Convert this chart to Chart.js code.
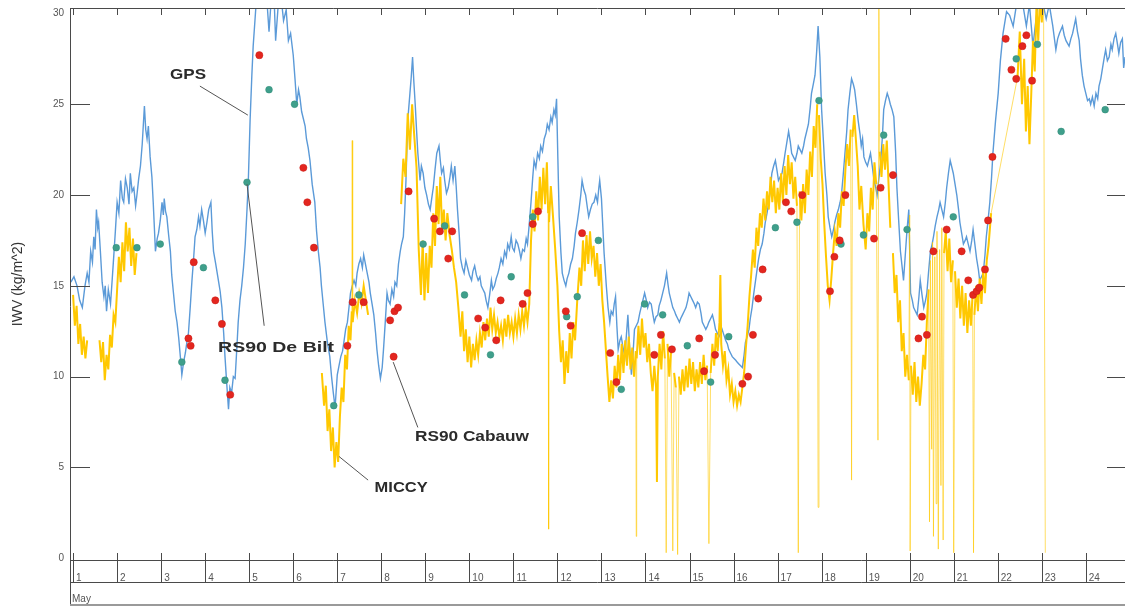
<!DOCTYPE html>
<html>
<head>
<meta charset="utf-8">
<title>IWV - May</title>
<script src="https://cdn.jsdelivr.net/npm/chart.js@4/dist/chart.umd.min.js"></script>
<style>
  html, body { margin: 0; padding: 0; background: #fff; }
  #wrap { width: 1125px; height: 610px; }
</style>
</head>
<body>
<div id="wrap"><canvas id="chart" width="1125" height="610"></canvas></div>
<script>
// IWV time series for May: GPS, MICCY radiometer and the two RS90 radiosonde sites

const dayTicks = [1, 2, 3, 4, 5, 6, 7, 8, 9, 10, 11, 12, 13, 14, 15, 16, 17, 18, 19, 20, 21, 22, 23, 24];
const iwvTicks = [0, 5, 10, 15, 20, 25, 30];
const monthLabel = "May";

// [day of May, IWV kg/m^2]
const gps = [
  [0.95,15.2],[1.02,15.5],[1.09,15.0],[1.15,14.2],[1.21,13.8],[1.27,15.0],[1.32,15.7],[1.36,15.2],[1.40,16.9],[1.44,16.3],
  [1.47,17.7],[1.50,17.0],[1.53,19.2],[1.56,18.2],[1.58,18.5],[1.62,16.9],[1.66,15.2],[1.70,14.4],[1.73,15.0],[1.76,13.6],
  [1.80,14.8],[1.85,14.0],[1.89,15.4],[1.92,16.5],[1.96,18.0],[2.00,19.6],[2.04,19.0],[2.08,20.8],[2.12,19.8],[2.15,19.6],
  [2.19,20.9],[2.23,20.4],[2.27,19.5],[2.30,21.2],[2.34,20.2],[2.38,20.4],[2.42,19.4],[2.45,20.0],[2.49,20.9],[2.53,21.6],
  [2.57,22.8],[2.62,24.9],[2.65,23.6],[2.68,23.1],[2.71,23.8],[2.75,22.1],[2.79,21.0],[2.82,19.6],[2.85,18.0],[2.87,16.9],
  [2.91,17.6],[2.94,17.9],[2.98,18.6],[3.02,19.6],[3.05,18.9],[3.07,19.8],[3.10,19.1],[3.13,18.8],[3.17,17.8],[3.21,16.9],
  [3.24,15.6],[3.28,14.6],[3.32,13.6],[3.36,13.0],[3.40,12.1],[3.44,11.0],[3.47,10.1],[3.51,10.8],[3.55,11.3],[3.59,12.0],
  [3.62,12.4],[3.66,13.8],[3.70,15.3],[3.74,16.6],[3.77,17.7],[3.81,18.1],[3.85,18.8],[3.88,18.3],[3.92,19.2],[3.96,18.6],
  [4.00,17.9],[4.04,18.5],[4.08,19.2],[4.13,19.6],[4.16,18.0],[4.19,16.9],[4.24,16.2],[4.30,15.3],[4.34,14.7],[4.38,13.8],
  [4.42,12.4],[4.45,11.1],[4.49,9.6],[4.53,8.2],[4.56,9.4],[4.60,9.1],[4.64,10.0],[4.68,9.9],[4.72,11.6],[4.75,13.0],
  [4.79,14.2],[4.83,15.0],[4.87,16.0],[4.91,17.3],[4.95,19.2],[4.98,20.8],[5.02,24.1],[5.06,26.6],[5.09,28.2],[5.13,29.6],
  [5.17,31.0],[5.25,31.5],[5.32,30.8],[5.38,31.5],[5.45,29.0],[5.50,30.8],[5.56,31.2],[5.60,28.5],[5.66,30.5],[5.72,31.0],
  [5.78,29.6],[5.84,30.2],[5.89,28.5],[5.94,28.9],[6.00,27.7],[6.04,26.4],[6.08,25.0],[6.12,25.8],[6.15,25.4],[6.19,24.6],
  [6.23,24.2],[6.27,23.8],[6.30,23.1],[6.34,22.6],[6.38,21.9],[6.43,20.6],[6.49,19.6],[6.53,18.0],[6.57,16.9],[6.61,16.0],
  [6.64,15.0],[6.68,14.0],[6.72,13.0],[6.77,12.0],[6.83,11.1],[6.87,10.0],[6.91,9.1],[6.95,8.3],
  [7.00,10.1],[7.04,10.6],[7.08,11.1],[7.12,11.4],[7.15,11.9],[7.19,12.6],[7.23,13.0],[7.27,13.9],[7.30,14.6],[7.34,15.0],
  [7.38,15.3],[7.42,15.0],[7.45,15.7],[7.49,16.2],[7.53,16.5],[7.57,16.0],[7.60,16.7],[7.64,16.2],[7.68,15.7],[7.72,15.2],
  [7.75,14.6],[7.79,14.0],[7.83,13.4],[7.87,12.4],[7.90,11.5],[7.94,10.6],[7.98,9.9],[8.02,10.5],[8.05,11.5],[8.09,13.0],
  [8.13,14.6],[8.16,14.2],[8.20,14.0],[8.24,14.8],[8.28,14.4],[8.31,15.2],[8.35,15.0],[8.39,16.2],[8.43,16.9],[8.46,17.3],
  [8.50,17.7],[8.53,19.0],[8.56,20.8],[8.60,24.1],[8.65,25.6],[8.68,26.5],[8.71,27.6],[8.74,26.2],[8.77,25.0],[8.80,23.6],
  [8.83,22.3],[8.88,20.8],[8.91,21.6],[8.95,21.2],[8.99,20.4],[9.03,20.0],[9.07,19.5],[9.11,19.2],[9.15,19.9],[9.18,20.4],
  [9.22,21.4],[9.26,22.3],[9.31,22.7],[9.34,21.9],[9.37,21.2],[9.41,21.5],[9.44,20.8],[9.48,20.1],[9.52,20.4],[9.56,21.0],
  [9.59,21.6],[9.63,20.8],[9.67,21.6],[9.70,20.5],[9.73,19.2],[9.77,17.8],[9.80,16.5],[9.84,16.0],[9.88,15.7],[9.92,16.4],
  [9.95,16.1],[10.00,15.6],[10.05,15.3],[10.08,15.8],[10.12,16.1],[10.16,15.6],[10.20,15.3],[10.24,15.5],[10.27,15.0],[10.31,14.8],
  [10.35,14.6],[10.38,14.2],[10.42,13.8],[10.46,14.5],[10.50,15.3],[10.53,14.8],[10.57,15.0],[10.61,15.4],[10.65,15.7],[10.68,16.0],
  [10.72,16.5],[10.76,16.2],[10.80,16.9],[10.84,16.6],[10.87,17.3],[10.91,17.0],[10.95,17.7],[10.98,17.1],[11.02,16.9],[11.06,17.5],
  [11.10,17.3],[11.14,16.9],[11.17,16.5],[11.21,17.0],[11.25,16.9],[11.29,17.6],[11.32,17.3],[11.36,18.4],[11.40,19.6],[11.44,21.0],
  [11.47,21.9],[11.51,21.5],[11.55,22.3],[11.59,22.0],[11.62,22.7],[11.66,22.4],[11.70,23.1],[11.74,23.4],[11.77,23.9],[11.81,23.6],
  [11.85,24.3],[11.88,24.0],[11.92,24.7],[11.95,24.4],[11.98,25.3],[12.01,22.0],[12.04,18.8],[12.08,16.8],[12.11,15.7],[12.15,15.3],
  [12.19,15.0],[12.22,15.4],[12.26,15.7],[12.30,16.2],[12.34,16.5],[12.38,17.2],[12.41,17.9],[12.45,18.5],[12.49,19.2],[12.53,20.0],
  [12.56,20.8],[12.60,20.3],[12.64,20.0],[12.68,19.3],[12.71,18.8],[12.75,19.2],[12.79,19.5],[12.83,19.6],[12.87,20.0],[12.91,19.6],
  [12.94,20.4],[12.96,20.8],[13.00,19.8],[13.02,18.8],[13.06,16.8],[13.11,15.0],[13.15,13.8],[13.19,13.0],[13.22,13.6],[13.26,13.4],
  [13.29,14.0],[13.32,14.4],[13.35,12.8],[13.38,11.5],[13.42,12.0],[13.45,12.2],[13.49,11.6],[13.53,11.1],[13.57,12.4],[13.60,13.4],
  [13.64,11.6],[13.68,10.1],[13.72,11.4],[13.75,12.6],[13.79,12.8],[13.83,13.0],[13.87,13.5],[13.90,13.8],[13.94,14.2],[13.98,14.6],
  [14.02,14.2],[14.05,13.8],[14.09,14.1],[14.13,14.0],[14.17,13.4],[14.20,13.0],[14.24,13.3],[14.28,13.4],[14.31,13.9],[14.35,14.2],
  [14.39,14.6],[14.43,15.0],[14.48,15.7],[14.51,15.1],[14.54,14.6],[14.58,14.2],[14.62,13.8],[14.66,13.6],[14.69,13.4],[14.73,13.2],
  [14.77,13.0],[14.80,13.2],[14.84,13.4],[14.88,13.6],[14.92,13.8],[14.96,14.2],[14.99,14.6],[15.03,14.4],[15.07,14.2],[15.11,14.0],
  [15.14,13.8],[15.18,14.1],[15.22,14.0],[15.26,13.5],[15.29,13.0],[15.33,12.8],[15.37,12.6],[15.41,12.8],[15.44,13.0],[15.48,13.2],
  [15.52,13.4],[15.56,13.0],[15.59,12.6],[15.63,12.4],[15.67,12.2],[15.71,12.4],[15.74,12.6],[15.78,12.3],[15.82,12.0],[15.86,11.8],
  [15.89,11.5],[15.93,11.3],[15.97,11.1],[16.01,11.0],[16.05,10.9],[16.08,10.8],[16.12,10.7],[16.16,10.6],[16.20,10.5],[16.24,11.2],
  [16.27,11.9],[16.31,12.2],[16.35,12.6],[16.38,13.2],[16.42,13.8],[16.46,14.6],[16.50,15.3],[16.54,16.0],[16.57,16.5],[16.61,17.0],
  [16.65,17.3],[16.69,17.9],[16.72,18.5],[16.76,19.0],[16.80,19.6],[16.84,20.4],[16.87,21.2],[16.91,21.6],[16.95,21.9],[16.99,21.3],
  [17.02,20.8],[17.06,21.0],[17.10,21.2],[17.14,21.8],[17.17,22.3],[17.21,22.9],[17.25,23.5],[17.29,22.9],[17.32,22.3],[17.36,22.1],
  [17.40,21.9],[17.44,22.3],[17.47,22.7],[17.51,22.5],[17.55,22.3],[17.59,22.7],[17.62,23.1],[17.66,23.5],[17.70,23.9],[17.74,24.8],
  [17.77,25.6],[17.81,26.1],[17.85,26.6],[17.89,28.0],[17.92,29.3],[17.96,27.6],[18.00,24.7],[18.04,23.0],[18.08,21.2],[18.12,20.0],
  [18.15,18.8],[18.19,18.2],[18.23,17.7],[18.27,18.1],[18.30,18.5],[18.34,18.9],[18.38,19.2],[18.42,19.6],[18.45,20.0],[18.49,21.1],
  [18.53,22.3],[18.57,23.5],[18.60,24.7],[18.64,25.6],[18.68,26.4],[18.72,26.1],[18.75,25.8],[18.79,25.0],[18.83,24.1],[18.87,23.4],
  [18.90,22.7],[18.93,23.1],[18.96,22.1],[19.00,21.8],[19.04,21.6],[19.08,22.0],[19.11,22.3],[19.15,21.6],[19.19,20.8],[19.23,20.4],
  [19.26,20.0],[19.30,20.9],[19.34,21.8],[19.38,23.2],[19.41,24.7],[19.45,25.2],[19.49,25.6],[19.53,25.3],[19.56,25.0],[19.60,24.7],
  [19.64,24.3],[19.68,22.4],[19.71,20.4],[19.75,18.6],[19.79,16.9],[19.83,16.0],[19.86,15.3],[19.90,16.7],[19.94,18.1],[19.98,19.2],
  [20.02,14.6],[20.06,14.2],[20.09,13.8],[20.13,13.6],[20.17,13.4],[20.21,14.4],[20.24,15.3],[20.28,14.5],[20.32,13.8],[20.36,14.2],
  [20.39,14.6],[20.43,15.8],[20.47,16.9],[20.51,17.3],[20.54,17.7],[20.58,18.3],[20.62,18.8],[20.66,19.2],[20.69,19.6],[20.73,19.2],
  [20.77,18.8],[20.81,19.6],[20.84,20.4],[20.88,21.2],[20.92,21.9],[20.96,21.5],[20.99,21.2],[21.03,20.6],[21.07,20.0],[21.11,19.2],
  [21.14,18.5],[21.18,17.9],[21.22,17.3],[21.26,17.5],[21.29,17.7],[21.33,17.3],[21.37,16.9],[21.41,17.5],[21.44,18.1],[21.48,17.3],
  [21.52,16.5],[21.56,15.9],[21.59,15.3],[21.63,15.5],[21.67,15.7],[21.71,16.7],[21.74,17.7],[21.78,18.6],[21.82,19.6],[21.86,21.0],
  [21.89,22.3],[21.95,24.1],[22.01,25.6],[22.06,27.4],[22.12,28.9],[22.20,30.1],[22.27,29.9],[22.35,29.3],[22.42,30.4],[22.48,31.0],
  [22.53,31.0],[22.59,30.2],[22.65,29.3],[22.72,30.5],[22.80,28.2],[22.87,29.7],[22.93,30.8],[22.98,31.0],[23.04,30.4],[23.10,29.7],
  [23.17,30.5],[23.25,29.3],[23.32,28.0],[23.36,28.6],[23.40,28.9],[23.47,29.3],[23.51,28.8],[23.55,28.5],[23.62,28.2],[23.66,28.6],
  [23.70,28.9],[23.77,29.7],[23.81,29.0],[23.85,28.5],[23.88,27.5],[23.92,26.6],[23.96,26.0],[24.00,25.6],[24.04,25.2],[24.08,25.3],
  [24.11,25.0],[24.15,25.4],[24.19,24.9],[24.23,25.6],[24.27,25.3],[24.30,26.0],[24.34,26.4],[24.38,27.0],[24.42,27.6],[24.45,28.0],
  [24.49,27.4],[24.53,27.6],[24.57,28.3],[24.60,28.0],[24.64,28.6],[24.68,28.9],[24.72,28.3],[24.75,27.8],[24.79,28.4],[24.83,28.6],
  [24.86,27.0],[24.89,27.6]
];

// null = no MICCY data
const miccy = [
  [1.00,14.5],[1.04,12.8],[1.08,13.9],[1.12,11.8],[1.16,12.9],[1.20,11.2],[1.24,12.2],[1.28,11.0],[1.32,12.0],[1.36,null],
  [1.60,12.0],[1.64,10.8],[1.68,11.9],[1.72,9.8],[1.76,11.2],[1.80,10.4],[1.84,12.3],[1.88,11.6],[1.92,13.4],[1.96,13.0],
  [2.00,14.8],[2.04,16.6],[2.08,15.2],[2.12,17.4],[2.16,15.8],[2.20,18.5],[2.24,16.9],[2.28,18.2],[2.32,16.1],[2.36,17.6],
  [2.40,15.6],[2.44,16.8],[2.48,null],
  [6.65,10.2],[6.70,8.4],[6.74,9.5],[6.78,7.0],[6.82,8.2],[6.86,5.9],[6.90,7.2],[6.94,5.0],[6.98,6.4],[7.02,5.3],
  [7.06,7.8],[7.10,9.4],[7.14,8.6],[7.18,11.2],[7.22,10.4],[7.26,12.8],[7.30,12.0],[7.33,13.6],[7.34,23.0],[7.35,13.0],
  [7.40,14.2],[7.45,13.5],[7.50,14.6],[7.55,14.0],[7.60,15.0],[7.65,14.2],[7.70,13.4],[7.74,null],
  [8.45,19.5],[8.50,22.0],[8.55,21.0],[8.60,24.5],[8.65,22.5],[8.70,25.0],[8.75,23.2],[8.80,21.5],[8.85,17.0],[8.90,14.5],
  [8.94,17.5],[8.98,14.2],[9.02,16.8],[9.06,14.6],[9.10,17.2],[9.14,16.0],[9.18,19.0],[9.22,17.2],[9.26,20.5],[9.30,18.4],
  [9.34,21.0],[9.38,18.0],[9.42,19.2],[9.46,17.5],[9.50,19.0],[9.55,17.8],[9.60,17.0],[9.65,16.0],[9.70,15.2],[9.75,13.8],
  [9.80,12.2],[9.84,13.6],[9.88,11.4],[9.92,12.6],[9.96,10.8],[10.00,12.2],[10.04,10.5],[10.08,11.8],[10.12,10.9],[10.16,12.0],
  [10.20,11.2],[10.24,12.4],[10.28,11.6],[10.32,13.0],[10.36,12.0],[10.40,13.2],[10.44,12.2],[10.48,13.8],[10.52,12.6],[10.56,13.4],
  [10.60,12.4],[10.64,13.0],[10.68,12.2],[10.72,12.8],[10.76,12.0],[10.80,13.2],[10.84,12.2],[10.88,13.4],[10.92,12.4],[10.96,13.0],
  [11.00,12.2],[11.04,13.2],[11.08,12.4],[11.12,13.4],[11.16,12.6],[11.20,13.6],[11.24,12.8],[11.28,13.8],[11.32,13.0],[11.36,14.0],
  [11.40,17.5],[11.44,19.2],[11.48,18.0],[11.52,20.2],[11.56,18.6],[11.60,21.0],[11.64,19.2],[11.68,21.5],[11.72,19.5],[11.76,21.8],
  [11.79,19.0],[11.80,1.6],[11.81,18.5],[11.85,20.5],[11.90,18.8],[11.95,17.0],[12.00,15.0],[12.04,12.5],[12.08,10.8],[12.12,12.0],
  [12.16,9.6],[12.20,11.4],[12.24,10.2],[12.28,12.4],[12.32,11.0],[12.36,13.0],[12.40,12.0],[12.45,14.2],[12.50,16.0],[12.54,15.0],
  [12.58,17.5],[12.62,15.8],[12.66,17.8],[12.70,16.2],[12.74,18.0],[12.78,16.5],[12.82,17.2],[12.86,15.5],[12.90,16.8],[12.94,15.0],
  [12.98,16.2],[13.02,14.2],[13.06,13.0],[13.10,11.5],[13.14,10.0],[13.18,8.6],[13.22,9.8],[13.26,8.8],[13.30,10.6],[13.34,9.4],
  [13.38,11.2],[13.42,9.8],[13.46,11.8],[13.50,10.2],[13.54,12.0],[13.58,10.6],[13.62,12.2],[13.66,10.4],[13.70,11.6],[13.74,10.0],
  [13.78,11.4],[13.79,1.2],[13.80,11.0],[13.84,12.8],[13.88,11.2],[13.92,13.2],[13.96,11.6],[14.00,12.4],[14.04,10.8],[14.08,11.8],
  [14.12,10.2],[14.16,9.2],[14.20,10.6],[14.24,9.4],[14.26,4.2],[14.28,10.0],[14.32,11.8],[14.36,10.4],[14.40,12.5],[14.44,11.0],
  [14.47,0.3],[14.50,11.8],[14.54,10.0],[14.58,11.4],[14.62,0.4],[14.65,10.2],[14.69,9.4],[14.73,0.2],[14.76,10.0],[14.80,9.0],
  [14.84,10.4],[14.88,9.2],[14.92,10.6],[14.96,9.4],[15.00,11.0],[15.04,9.6],[15.08,10.8],[15.12,9.2],[15.16,10.4],[15.20,9.4],
  [15.24,10.8],[15.28,9.6],[15.32,11.2],[15.36,9.8],[15.40,10.6],[15.44,0.8],[15.48,10.2],[15.52,11.8],[15.56,10.6],[15.60,12.4],
  [15.64,11.4],[15.68,13.0],[15.70,15.6],[15.72,11.8],[15.76,10.6],[15.80,11.4],[15.84,9.8],[15.88,10.4],[15.92,9.0],[15.96,9.6],
  [16.00,8.6],[16.04,9.2],[16.08,8.4],[16.12,9.0],[16.16,8.6],[16.20,9.4],[16.24,10.2],[16.28,11.6],[16.32,12.8],[16.36,14.4],
  [16.40,15.6],[16.44,17.0],[16.48,16.0],[16.52,18.2],[16.56,17.2],[16.60,19.0],[16.64,18.2],[16.68,19.8],[16.72,18.6],[16.76,20.2],
  [16.80,19.2],[16.84,21.0],[16.88,19.6],[16.92,20.8],[16.96,19.0],[17.00,20.4],[17.04,19.2],[17.08,21.2],[17.12,19.6],[17.16,21.6],
  [17.20,20.0],[17.24,22.2],[17.28,20.6],[17.32,21.8],[17.36,19.8],[17.40,21.0],[17.44,19.4],[17.47,0.3],[17.50,20.2],[17.54,18.6],
  [17.58,20.6],[17.62,19.0],[17.66,21.4],[17.70,20.0],[17.74,22.4],[17.78,21.0],[17.82,23.8],[17.86,22.6],[17.90,25.0],[17.92,2.8],
  [17.94,24.4],[17.98,22.0],[18.02,20.6],[18.06,18.4],[18.10,16.6],[18.14,15.0],[18.18,14.2],[18.22,15.4],[18.26,16.8],[18.30,18.0],
  [18.34,17.2],[18.38,19.0],[18.42,18.2],[18.46,20.2],[18.50,19.4],[18.54,21.4],[18.58,22.8],[18.62,21.6],[18.66,23.6],[18.68,4.3],
  [18.70,23.2],[18.74,24.4],[18.78,23.0],[18.82,21.6],[18.86,19.2],[18.90,20.5],[18.95,18.4],[19.00,17.0],[19.04,19.0],[19.08,18.0],
  [19.12,20.4],[19.16,19.2],[19.20,21.8],[19.24,20.6],[19.28,6.5],[19.30,31.0],[19.32,22.4],[19.36,21.0],[19.40,22.8],[19.44,21.4],
  [19.48,23.0],[19.52,20.6],[19.56,18.2],[19.59,null],
  [19.62,16.8],[19.66,14.6],[19.70,15.6],[19.74,13.0],[19.78,14.2],[19.82,11.4],[19.86,12.4],[19.90,10.0],[19.94,11.2],[19.98,9.8],
  [20.00,18.9],[20.01,0.4],[20.03,10.6],[20.07,9.0],[20.11,10.8],[20.15,8.6],[20.19,10.0],[20.23,8.4],[20.27,9.6],[20.31,11.2],
  [20.35,10.4],[20.39,13.0],[20.43,14.8],[20.45,2.0],[20.47,16.4],[20.50,6.0],[20.52,17.4],[20.54,1.2],[20.57,16.6],[20.60,3.0],
  [20.62,18.0],[20.65,0.5],[20.68,17.0],[20.71,4.0],[20.73,18.2],[20.76,1.0],[20.78,16.8],[20.82,18.0],[20.86,15.8],[20.90,17.6],
  [20.94,15.2],[20.98,16.4],[21.00,0.3],[21.03,15.8],[21.07,13.8],[21.11,15.4],[21.15,13.2],[21.19,15.0],[21.23,12.8],[21.27,14.6],
  [21.31,12.4],[21.35,14.2],[21.39,12.8],[21.43,14.6],[21.45,0.3],[21.47,13.4],[21.51,15.0],[21.55,13.6],[21.59,15.4],[21.63,14.0],
  [21.67,15.8],[21.71,14.6],[21.75,16.4],[21.79,17.2],[21.85,19.0],[22.45,26.5],[22.50,29.0],[22.55,25.0],[22.60,27.5],[22.64,23.5],
  [22.68,26.0],[22.72,22.8],[22.76,25.5],[22.80,28.5],[22.84,26.8],[22.88,30.5],[22.92,28.5],[22.96,31.0],[23.00,29.5],[23.04,31.0],
  [23.08,0.3],[23.10,null]
];

const rsCabauw = [
  [3.62,12.1],[3.67,11.7],[3.74,16.3],[4.23,14.2],[4.38,12.9],[4.57,9.0],[5.23,27.7],[6.23,21.5],[6.32,19.6],[6.47,17.1],
  [7.23,11.7],[7.35,14.1],[7.60,14.1],[8.20,13.1],[8.28,11.1],[8.30,13.6],[8.38,13.8],[8.62,20.2],[9.20,18.7],[9.33,18.0],
  [9.52,16.5],[9.61,18.0],[10.20,13.2],[10.36,12.7],[10.61,12.0],[10.71,14.2],[11.21,14.0],[11.32,14.6],[11.44,18.4],[11.56,19.1],
  [12.19,13.6],[12.30,12.8],[12.56,17.9],[13.20,11.3],[13.34,9.7],[14.20,11.2],[14.35,12.3],[14.60,11.5],[15.22,12.1],[15.33,10.3],
  [15.58,11.2],[16.20,9.6],[16.33,10.0],[16.44,12.3],[16.56,14.3],[16.66,15.9],[17.19,19.6],[17.31,19.1],[17.56,20.0],[18.19,14.7],
  [18.29,16.6],[18.41,17.5],[18.54,20.0],[19.19,17.6],[19.34,20.4],[19.62,21.1],[20.20,12.1],[20.28,13.3],[20.39,12.3],[20.54,16.9],
  [20.84,18.1],[21.18,16.9],[21.33,15.3],[21.44,14.5],[21.52,14.7],[21.58,14.9],[21.71,15.9],[21.78,18.6],[21.88,22.1],[22.18,28.6],
  [22.31,26.9],[22.42,26.4],[22.56,28.2],[22.65,28.8],[22.78,26.3]
];

const rsDeBilt = [
  [1.98,17.1],[2.45,17.1],[2.98,17.3],[3.47,10.8],[3.96,16.0],[4.45,9.8],[4.95,20.7],[5.45,25.8],[6.03,25.0],[6.92,8.4],
  [7.49,14.5],[8.95,17.3],[9.44,18.3],[9.89,14.5],[10.48,11.2],[10.95,15.5],[11.44,18.8],[12.21,13.3],[12.45,14.4],[12.93,17.5],
  [13.45,9.3],[13.98,14.0],[14.39,13.4],[14.95,11.7],[15.48,9.7],[15.89,12.2],[16.95,18.2],[17.44,18.5],[17.94,25.2],[18.44,17.3],
  [18.95,17.8],[19.41,23.3],[19.94,18.1],[20.99,18.8],[22.42,27.5],[22.90,28.3],[23.44,23.5],[24.44,24.7]
];

// labels with leader lines, in data units (day, IWV)
const notes = [
  { text: "GPS",          at: [3.61, 26.6], from: [3.88, 26.0], to: [4.97, 24.4], width: 36 },
  { text: "RS90 De Bilt", at: [5.61, 11.6], from: [5.34, 12.8], to: [4.95, 20.6], width: 116 },
  { text: "RS90 Cabauw",  at: [10.06, 6.7], from: [8.83, 7.2],  to: [8.27, 10.8], width: 114 },
  { text: "MICCY",        at: [8.45, 3.9],  from: [7.70, 4.3],  to: [7.04, 5.6],  width: 53 }
];

const toXY = rows => rows.map(r => ({ x: r[0], y: r[1] }));
const fontFamily = "'Liberation Sans', Arial, sans-serif";

const framePlugin = {
  id: "framePlugin",
  beforeDraw(chart) {
    const ctx = chart.ctx;
    ctx.save();
    ctx.fillStyle = "#fff";
    ctx.fillRect(0, 0, chart.width, chart.height);
    ctx.restore();
  },
  afterDraw(chart) {
    const { ctx, chartArea: a, scales: { x, y } } = chart;
    const line = (x1, y1, x2, y2) => {
      ctx.beginPath(); ctx.moveTo(x1, y1); ctx.lineTo(x2, y2); ctx.stroke();
    };
    const band1 = a.bottom + 22, band2 = a.bottom + 45;
    ctx.save();
    ctx.lineWidth = 1;
    ctx.strokeStyle = "#4a4a4a";
    line(a.left, a.top + 0.5, a.right, a.top + 0.5);
    line(a.left + 0.5, a.top, a.left + 0.5, band2);
    line(a.left, a.bottom + 0.5, a.right, a.bottom + 0.5);
    line(a.left, band1 + 0.5, a.right, band1 + 0.5);
    ctx.strokeStyle = "#9a9a9a";
    ctx.lineWidth = 2;
    line(a.left, band2, a.right, band2);

    ctx.lineWidth = 1;
    ctx.strokeStyle = "#4a4a4a";
    dayTicks.forEach(d => {
      const px = Math.round(x.getPixelForValue(d)) + 0.5;
      line(px, a.top, px, a.top + 7);
      line(px, a.bottom - 7, px, band1);
    });
    iwvTicks.slice(1, -1).forEach(v => {
      const py = Math.round(y.getPixelForValue(v)) + 0.5;
      line(a.left, py, a.left + 20, py);
      line(a.right - 18, py, a.right, py);
    });

    ctx.fillStyle = "#555";
    ctx.font = "10px " + fontFamily;
    ctx.textAlign = "left";
    ctx.textBaseline = "middle";
    ctx.fillText(monthLabel, a.left + 2, band2 - 6);

    // annotations
    notes.forEach(n => {
      ctx.strokeStyle = "#555";
      ctx.lineWidth = 1;
      line(x.getPixelForValue(n.from[0]), y.getPixelForValue(n.from[1]),
           x.getPixelForValue(n.to[0]), y.getPixelForValue(n.to[1]));
      ctx.font = "bold 15px " + fontFamily;
      const w = ctx.measureText(n.text).width;
      ctx.save();
      ctx.translate(x.getPixelForValue(n.at[0]), y.getPixelForValue(n.at[1]));
      ctx.scale(n.width / w, 1);
      ctx.fillStyle = "#2b2b2b";
      ctx.textAlign = "center";
      ctx.textBaseline = "middle";
      ctx.fillText(n.text, 0, 0);
      ctx.restore();
    });
    ctx.restore();
  }
};

const spike = ctx => Math.abs(ctx.p1.parsed.y - ctx.p0.parsed.y) > 7;

new Chart(document.getElementById("chart"), {
  type: "scatter",
  data: {
    datasets: [
      {
        label: "RS90 Cabauw",
        data: toXY(rsCabauw),
        pointRadius: 3.6,
        pointBackgroundColor: "#e3261f",
        pointBorderColor: "#c81a14",
        pointBorderWidth: 0.5,
        order: 0
      },
      {
        label: "RS90 De Bilt",
        data: toXY(rsDeBilt),
        pointRadius: 3.4,
        pointBackgroundColor: "#3f9f8b",
        pointBorderColor: "#2f8a76",
        pointBorderWidth: 0.5,
        order: 0
      },
      {
        label: "MICCY",
        data: toXY(miccy),
        showLine: true,
        spanGaps: false,
        pointRadius: 0,
        borderColor: "#ffc800",
        borderWidth: 2,
        segment: {
          borderWidth: ctx => spike(ctx) ? 1 : 2,
          borderColor: ctx => spike(ctx) ? "rgba(255, 200, 0, 0.6)" : "#ffc800"
        },
        order: 1
      },
      {
        label: "GPS",
        data: toXY(gps),
        showLine: true,
        pointRadius: 0,
        borderColor: "#5b9ad8",
        borderWidth: 1.4,
        order: 2
      }
    ]
  },
  options: {
    responsive: false,
    animation: false,
    devicePixelRatio: 1,
    layout: { autoPadding: false, padding: { top: 8, left: 0, right: 0, bottom: 0 } },
    plugins: {
      legend: { display: false },
      tooltip: { enabled: false }
    },
    scales: {
      x: {
        type: "linear",
        min: 0.93,
        max: 24.89,
        afterFit: s => { s.height = 50; s.paddingLeft = 0; s.paddingRight = 0; },
        afterBuildTicks: s => { s.ticks = dayTicks.map(v => ({ value: v })); },
        grid: { display: false, drawTicks: false },
        border: { display: false },
        ticks: {
          align: "start",
          labelOffset: 3,
          padding: 12,
          autoSkip: false,
          maxRotation: 0,
          color: "#555",
          font: { size: 10, family: fontFamily }
        }
      },
      y: {
        type: "linear",
        min: -0.1,
        max: 30.3,
        afterFit: s => { s.width = 70; s.paddingTop = 0; s.paddingBottom = 0; },
        afterBuildTicks: s => { s.ticks = iwvTicks.map(v => ({ value: v })); },
        grid: { display: false, drawTicks: false },
        border: { display: false },
        ticks: {
          padding: 6,
          color: "#555",
          font: { size: 10, family: fontFamily }
        },
        title: {
          display: true,
          text: "IWV (kg/m^2)",
          color: "#333",
          font: { size: 14, family: fontFamily },
          padding: { top: 10, bottom: 0 }
        }
      }
    }
  },
  plugins: [framePlugin]
});
</script>
</body>
</html>
